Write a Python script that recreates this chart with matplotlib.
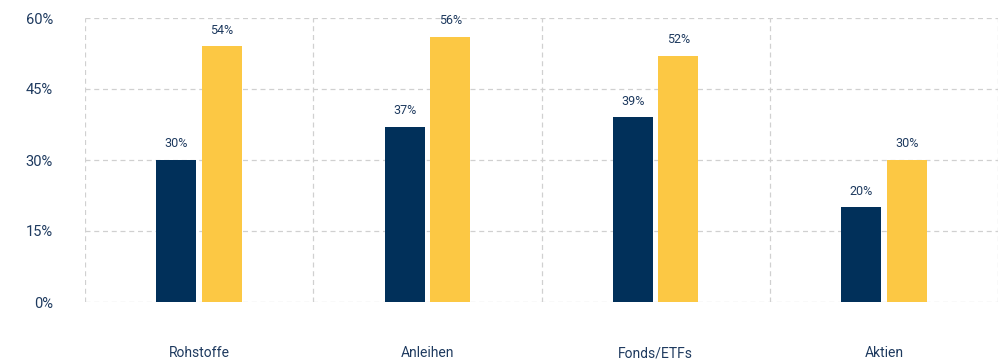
import matplotlib
matplotlib.use("Agg")
import matplotlib.pyplot as plt
import numpy as np
from matplotlib.ticker import FixedLocator, PercentFormatter

categories = ["Rohstoffe", "Anleihen", "Fonds/ETFs", "Aktien"]
series_a = [30, 37, 39, 20]
series_b = [54, 56, 52, 30]
yticks = [0, 15, 30, 45, 60]

dark = "#01305A"
yellow = "#FCC844"
text_col = "#1E3A5F"
grid_col = "#D0D0D0"

plt.rcParams['font.family'] = ['Roboto', 'DejaVu Sans']

fig = plt.figure(figsize=(10, 3.61), dpi=100)
ax = fig.add_axes([0.085, 1 - 302/361, 0.913, (302 - 18)/361])

x = np.arange(len(categories))
w = 0.175
off = 0.1
b1 = ax.bar(x - off, series_a, width=w, color=dark, zorder=3)
b2 = ax.bar(x + off, series_b, width=w, color=yellow, zorder=3)

for bars, vals in ((b1, series_a), (b2, series_b)):
    for r, v in zip(bars, vals):
        ax.annotate(f"{v}%", (r.get_x() + r.get_width()/2, v),
                    xytext=(0, 7), textcoords="offset points",
                    ha="center", va="bottom", fontsize=9, color=text_col)

ax.set_xlim(-0.5, len(categories) - 0.5)
ax.set_ylim(0, 60)
ax.set_yticks(yticks)
ax.yaxis.set_major_formatter(PercentFormatter(decimals=0))
ax.set_xticks(x)
ax.set_xticklabels(categories)
ax.xaxis.set_minor_locator(FixedLocator(np.arange(-0.5, len(categories), 1.0)))

ax.tick_params(axis='x', which='both', length=0, pad=32, labelsize=10, colors=text_col)
ax.tick_params(axis='y', length=0, pad=23, labelsize=10.5, colors=text_col)

ax.grid(axis='y', which='major', linestyle=(0, (4, 3)), color=grid_col, linewidth=0.9, zorder=0)
ax.grid(axis='x', which='minor', linestyle=(0, (4, 3)), color=grid_col, linewidth=0.9, zorder=0)
ax.grid(axis='x', which='major', visible=False)

for s in ax.spines.values():
    s.set_visible(False)

fig.savefig("out.png", dpi=100)
